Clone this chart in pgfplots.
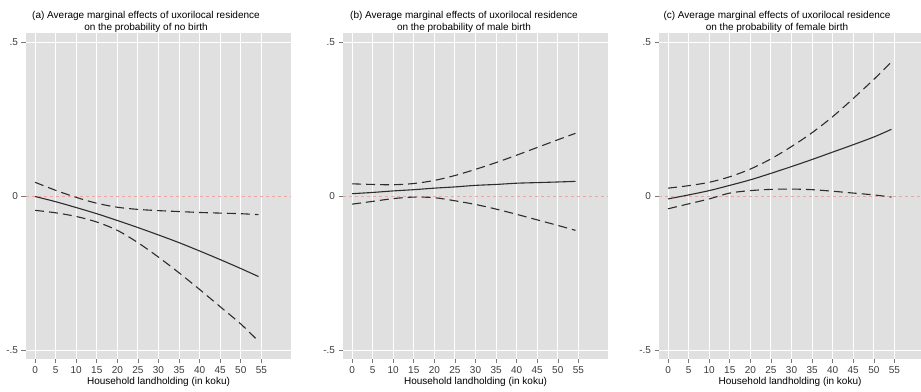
\documentclass[border=0pt]{standalone}
\usepackage{fontspec}
\setmainfont{Liberation Sans}
\usepackage{pgfplots}
\pgfplotsset{compat=1.18}
\definecolor{panelbg}{RGB}{224,224,224}
\definecolor{zeroline}{RGB}{236,165,165}
\definecolor{curve}{RGB}{45,45,45}
\definecolor{tickcol}{RGB}{120,120,120}
\definecolor{labcol}{RGB}{60,60,60}

\pgfplotstableread{
x est lo hi
0    0.000 -0.045  0.046
5   -0.017 -0.053  0.020
10  -0.036 -0.065 -0.003
15  -0.056 -0.083 -0.022
20  -0.078 -0.110 -0.035
25  -0.101 -0.150 -0.042
30  -0.125 -0.197 -0.046
35  -0.150 -0.248 -0.049
40  -0.177 -0.302 -0.052
45  -0.205 -0.358 -0.054
50  -0.234 -0.414 -0.056
54.3 -0.260 -0.470 -0.059
}\dataA

\pgfplotstableread{
x est lo hi
0    0.009 -0.025 0.041
5    0.013 -0.016 0.039
10   0.018 -0.007 0.038
15   0.022 -0.002 0.042
20   0.027 -0.004 0.052
25   0.031 -0.014 0.068
30   0.036 -0.026 0.088
35   0.039 -0.041 0.110
40   0.043 -0.058 0.134
45   0.045 -0.076 0.159
50   0.047 -0.094 0.184
54.3 0.049 -0.110 0.205
}\dataB

\pgfplotstableread{
x est lo hi
0   -0.008 -0.040 0.027
5    0.005 -0.024 0.035
10   0.019 -0.008 0.046
15   0.036  0.011 0.064
20   0.054  0.019 0.089
25   0.075  0.023 0.122
30   0.097  0.024 0.162
35   0.120  0.022 0.207
40   0.144  0.017 0.259
45   0.168  0.011 0.318
50   0.193  0.005 0.380
54.3 0.218 -0.002 0.437
}\dataC

\pgfplotsset{
  panel/.style={
    scale only axis, width=265pt, height=325pt,
    xmin=-2.2, xmax=62.2, ymin=-0.526, ymax=0.529,
    axis background/.style={fill=panelbg},
    axis line style={draw=none},
    xtick={0,5,...,55}, ytick={-0.5,0.5}, yticklabels={-.5,.5},
    extra y ticks={0}, extra y tick labels={0},
    extra y tick style={grid=none},
    xtick pos=bottom, ytick pos=left, tick align=outside,
    major tick length=4.5pt,
    major tick style={draw=tickcol, line width=0.6pt},
    grid=major, major grid style={white, line width=1pt},
    ticklabel style={font=\fontsize{10}{12}\selectfont, text=labcol},
    /pgf/number format/assume math mode=true,
    xlabel={Household landholding (in koku)},
    xlabel style={font=\fontsize{10}{12}\selectfont, yshift=3pt},
    clip=true,
  },
  est/.style={curve, line width=1.1pt, smooth},
  ci/.style={curve, line width=1.1pt, smooth, dash pattern=on 9pt off 5pt},
  zero/.style={zeroline, line width=1.6pt, dash pattern=on 3pt off 3pt},
}

\begin{document}
\begin{tikzpicture}
\useasboundingbox (0,0) rectangle (921pt,391pt);

\begin{axis}[panel, at={(26pt,32.5pt)}, anchor=south west]
  \addplot[zero] coordinates {(-2.2,0) (62.2,0)};
  \addplot[ci] table[x=x,y=hi] {\dataA};
  \addplot[ci] table[x=x,y=lo] {\dataA};
  \addplot[est] table[x=x,y=est] {\dataA};
\end{axis}

\begin{axis}[panel, at={(343pt,32.5pt)}, anchor=south west]
  \addplot[zero] coordinates {(-2.2,0) (62.2,0)};
  \addplot[ci] table[x=x,y=hi] {\dataB};
  \addplot[ci] table[x=x,y=lo] {\dataB};
  \addplot[est] table[x=x,y=est] {\dataB};
\end{axis}

\begin{axis}[panel, at={(659pt,32.5pt)}, anchor=south west, width=262pt, xmax=61.47]
  \addplot[zero] coordinates {(-2.2,0) (62.2,0)};
  \addplot[ci] table[x=x,y=hi] {\dataC};
  \addplot[ci] table[x=x,y=lo] {\dataC};
  \addplot[est] table[x=x,y=est] {\dataC};
\end{axis}

\node[align=center, font=\fontsize{10}{12}\selectfont] at (146pt,369pt)
  {(a) Average marginal effects of uxorilocal residence\\on the probability of no birth};
\node[align=center, font=\fontsize{10}{12}\selectfont] at (464pt,369pt)
  {(b) Average marginal effects of uxorilocal residence\\on the probability of male birth};
\node[align=center, font=\fontsize{10}{12}\selectfont] at (777pt,369pt)
  {(c) Average marginal effects of uxorilocal residence\\on the probability of female birth};
\end{tikzpicture}
\end{document}
